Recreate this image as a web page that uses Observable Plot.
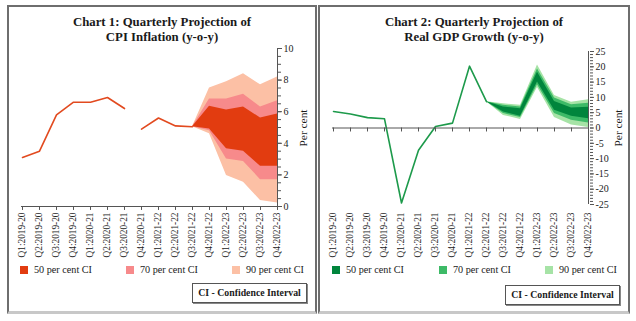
<!DOCTYPE html>
<html><head><meta charset="utf-8">
<script src="https://cdn.jsdelivr.net/npm/d3@7"></script>
<script src="https://cdn.jsdelivr.net/npm/@observablehq/plot@0.6"></script>
<style>
body{margin:0;background:#fff;width:636px;height:321px;position:relative;overflow:hidden;font-family:"Liberation Serif",serif;color:#1a1a1a;}
.panel{position:absolute;top:5px;height:309px;border:2px solid #6e6e6e;border-bottom:3px solid #c8c8c8;box-sizing:border-box;}
.title{position:absolute;text-align:center;font-weight:bold;font-size:12.8px;line-height:14.5px;}
.chart{position:absolute;}
.perc{position:absolute;font-size:11.4px;transform:rotate(-90deg);transform-origin:center;white-space:nowrap;width:60px;text-align:center;height:14px;line-height:14px;}
.leg{position:absolute;font-size:10.2px;white-space:nowrap;line-height:12px;}
.leg span.sw{display:inline-block;width:8px;height:8px;margin-right:6px;vertical-align:-0.5px;}
.ci{position:absolute;border:1px solid #555;box-shadow:1px 1px 0 #888;font-weight:bold;font-size:9.8px;text-align:center;line-height:18px;height:18px;box-sizing:content-box;background:#fff;white-space:nowrap;}
</style>
</head><body>
<div class="panel" style="left:7px;width:310px;"></div>
<div class="panel" style="left:318px;width:312px;"></div>
<div class="title" style="left:8px;width:308px;top:15px;">Chart 1: Quarterly Projection of<br>CPI Inflation (y-o-y)</div>
<div class="title" style="left:319px;width:310px;top:15px;">Chart 2: Quarterly Projection of<br>Real GDP Growth (y-o-y)</div>
<div id="c1" class="chart" style="left:8px;top:40px;"></div>
<div id="c2" class="chart" style="left:319px;top:43px;"></div>
<div class="perc" style="left:273px;top:121px;">Per cent</div>
<div class="perc" style="left:588px;top:121px;">Per cent</div>
<div id="leg1"></div>
<div id="leg2"></div>
<div class="ci" style="left:192px;top:283px;width:113px;">CI - Confidence Interval</div>
<div class="ci" style="left:505px;top:285px;width:113px;">CI - Confidence Interval</div>
<script>
const quarters = ["Q1:2019-20","Q2:2019-20","Q3:2019-20","Q4:2019-20","Q1:2020-21","Q2:2020-21","Q3:2020-21","Q4:2020-21","Q1:2021-22","Q2:2021-22","Q3:2021-22","Q4:2021-22","Q1:2022-23","Q2:2022-23","Q3:2022-23","Q4:2022-23"];

// CPI inflation (actual), two segments separated by a gap
const cpiValues  = [3.1, 3.5, 5.8, 6.6, 6.6, 6.9, 6.2, 4.9, 5.6, 5.1, 5.05];
const cpiSegment = [1, 1, 1, 1, 1, 1, 1, 2, 2, 2, 2];
// CPI fan (Q3:2021-22 to Q4:2022-23)
const cpiFanQuarters = quarters.slice(10);
const cpi50lo = [5.05, 4.9, 3.65, 3.5, 2.55, 2.55];
const cpi50hi = [5.05, 6.35, 6.1, 6.3, 5.6, 5.85];
const cpi70lo = [5.05, 4.8, 3.0, 2.85, 1.7, 1.7];
const cpi70hi = [5.05, 6.8, 6.8, 7.1, 6.3, 6.7];
const cpi90lo = [5.05, 4.6, 1.96, 1.54, 0.38, 0.22];
const cpi90hi = [5.05, 7.5, 7.9, 8.4, 7.7, 8.2];

// Real GDP growth (actual)
const gdpValues = [5.4, 4.6, 3.4, 3.0, -24.5, -7.3, 0.5, 1.6, 20.2, 8.6];
// GDP fan (Q2:2021-22 to Q4:2022-23)
const gdpFanQuarters = quarters.slice(9);
const gdp50lo = [8.6, 5.2, 3.8, 15.0, 5.8, 3.8, 3.0];
const gdp50hi = [8.6, 6.85, 6.3, 18.2, 8.7, 6.5, 6.8];
const gdp70lo = [8.6, 4.7, 3.4, 14.1, 4.7, 2.5, 1.6];
const gdp70hi = [8.6, 7.4, 6.85, 19.3, 9.8, 7.6, 8.1];
const gdp90lo = [8.6, 4.1, 2.8, 13.2, 3.4, 1.0, 0.2];
const gdp90hi = [8.6, 7.9, 7.4, 20.6, 10.6, 8.4, 9.2];

const legendLabels = ["50 per cent CI", "70 per cent CI", "90 per cent CI"];
const cpiColors = {line:"#e24a1f", c50:"#e23c10", c70:"#f78a8b", c90:"#fcc0a5"};
const gdpColors = {line:"#1d9a4b", c50:"#00853c", c70:"#3dba67", c90:"#a6e3a6"};

const cpiLine = quarters.slice(0, cpiValues.length).map((q,i)=>({q, v:cpiValues[i], seg:cpiSegment[i]}));
const cpiFan = cpiFanQuarters.map((q,i)=>({q, lo50:cpi50lo[i], hi50:cpi50hi[i], lo70:cpi70lo[i], hi70:cpi70hi[i], lo90:cpi90lo[i], hi90:cpi90hi[i]}));
const gdpLine = quarters.slice(0, gdpValues.length).map((q,i)=>({q, v:gdpValues[i]}));
const gdpFan = gdpFanQuarters.map((q,i)=>({q, lo50:gdp50lo[i], hi50:gdp50hi[i], lo70:gdp70lo[i], hi70:gdp70hi[i], lo90:gdp90lo[i], hi90:gdp90hi[i]}));

const last = quarters[quarters.length-1];
const axisColor = "#555";
const noText = () => "";
const baseStyle = {fontFamily:"Liberation Serif", fontSize:"10px", color:"#222", background:"transparent", overflow:"visible"};

function fanMarks(fan, col){
  return [
    Plot.areaY(fan, {x:"q", y1:"lo90", y2:"hi90", fill:col.c90}),
    Plot.areaY(fan, {x:"q", y1:"lo70", y2:"hi70", fill:col.c70}),
    Plot.areaY(fan, {x:"q", y1:"lo50", y2:"hi50", fill:col.c50})
  ];
}

const chart1 = Plot.plot({
  width:308, height:222, marginLeft:13, marginRight:39, marginTop:8, marginBottom:56,
  style:baseStyle,
  x:{type:"point", domain:quarters, padding:0},
  y:{domain:[0,10]},
  marks:[
    ...fanMarks(cpiFan, cpiColors),
    Plot.line(cpiLine, {x:"q", y:"v", z:"seg", stroke:cpiColors.line, strokeWidth:1.6}),
    Plot.ruleY([0], {stroke:axisColor}),
    Plot.ruleX(quarters, {x:d=>d, y1:0, y2:-0.25, stroke:axisColor}),
    Plot.ruleX([last], {stroke:axisColor}),
    Plot.ruleY([0,2,4,6,8,10], {y:d=>d, x1:last, x2:last, insetLeft:-3, stroke:axisColor}),
    Plot.axisY({anchor:"right", ticks:d3.range(0,10.01,0.5), tickSize:3, tickFormat:noText, label:null, stroke:axisColor}),
    Plot.axisY({anchor:"right", ticks:[0,2,4,6,8,10], tickSize:4, tickPadding:2, label:null, stroke:axisColor, fontSize:10}),
    Plot.axisX({anchor:"bottom", tickRotate:-90, tickSize:0, tickPadding:6, label:null, fontSize:9.3})
  ]
});
document.getElementById("c1").appendChild(chart1);

const chart2 = Plot.plot({
  width:310, height:222, marginLeft:13, marginRight:40, marginTop:8, marginBottom:61,
  style:baseStyle,
  x:{type:"point", domain:quarters, padding:0},
  y:{domain:[-25,25]},
  marks:[
    ...fanMarks(gdpFan, gdpColors),
    Plot.line(gdpLine, {x:"q", y:"v", stroke:gdpColors.line, strokeWidth:1.6}),
    Plot.ruleY([0], {stroke:axisColor}),
    Plot.ruleX(quarters, {x:d=>d, y1:0, y2:-1.3, stroke:axisColor}),
    Plot.ruleX([last], {stroke:axisColor}),
    Plot.ruleY(d3.range(-25,26,5), {y:d=>d, x1:last, x2:last, insetLeft:-3, stroke:axisColor}),
    Plot.axisY({anchor:"right", ticks:d3.range(-25,26,1), tickSize:3, tickFormat:noText, label:null, stroke:axisColor}),
    Plot.axisY({anchor:"right", ticks:d3.range(-25,26,5), tickSize:4, tickPadding:2, tickFormat:d=>String(d), label:null, stroke:axisColor, fontSize:10}),
    Plot.axisX({anchor:"bottom", tickRotate:-90, tickSize:0, tickPadding:8, label:null, fontSize:9.3})
  ]
});
document.getElementById("c2").appendChild(chart2);

function legend(id, xs, top, col){
  const el = document.getElementById(id);
  const cs = [col.c50, col.c70, col.c90];
  legendLabels.forEach((t,i)=>{
    const d = document.createElement("div");
    d.className = "leg";
    d.style.left = xs[i] + "px";
    d.style.top = top + "px";
    d.innerHTML = `<span class="sw" style="background:${cs[i]}"></span>${t}`;
    el.appendChild(d);
  });
}
legend("leg1", [20, 126, 232], 264, cpiColors);
legend("leg2", [332, 439, 545], 264, gdpColors);
</script>
</body></html>
